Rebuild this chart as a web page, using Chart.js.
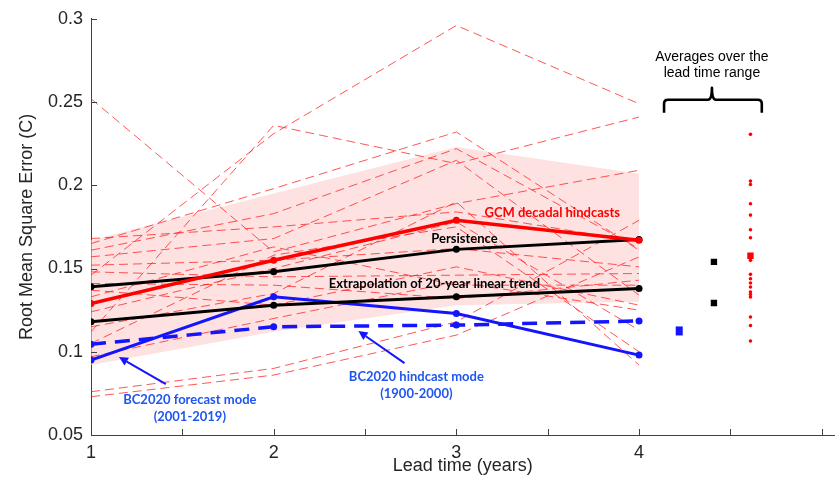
<!DOCTYPE html>
<html lang="en">
  <head>
    <meta charset="utf-8" />
    <title>RMSE vs lead time</title>
    <style>
      html, body { margin: 0; padding: 0; background: #fff; }
      #wrap { width: 839px; height: 491px; }
    </style>
  </head>
  <body>
    <div id="wrap"><canvas id="chart" width="839" height="491"></canvas></div>
    <script src="https://cdn.jsdelivr.net/npm/chart.js@4.4.1/dist/chart.umd.min.js"></script>
    <script>
      // lead times (years)
      const leadTimes = [1, 2, 3, 4];

      // main curves
      const gcmMean = [0.129, 0.155, 0.179, 0.167];
      const persistence = [0.139, 0.148, 0.1615, 0.1675];
      const extrapolation = [0.118, 0.128, 0.133, 0.138];
      const bcForecast = [0.095, 0.133, 0.123, 0.098];
      const bcHindcast = [0.1045, 0.115, 0.116, 0.1185];

      // shaded spread of the GCM hindcasts
      const bandUpper = [0.167, 0.195, 0.223, 0.207];
      const bandLower = [0.092, 0.112, 0.128, 0.130];

      // individual GCM hindcasts
      const gcmRuns = [
        [0.146, 0.231, 0.296, 0.249],
        [0.252, 0.160, 0.189, 0.209],
        [0.112, 0.236, 0.213, 0.241],
        [0.165, 0.198, 0.232, 0.161],
        [0.161, 0.183, 0.222, 0.162],
        [0.168, 0.175, 0.184, 0.166],
        [0.157, 0.168, 0.215, 0.134],
        [0.152, 0.155, 0.162, 0.151],
        [0.148, 0.145, 0.146, 0.147],
        [0.133, 0.163, 0.140, 0.140],
        [0.124, 0.150, 0.178, 0.113],
        [0.141, 0.140, 0.132, 0.143],
        [0.137, 0.128, 0.151, 0.128],
        [0.105, 0.158, 0.175, 0.100],
        [0.115, 0.135, 0.190, 0.092],
        [0.097, 0.120, 0.142, 0.125],
        [0.076, 0.090, 0.118, 0.179],
        [0.073, 0.086, 0.110, 0.157]
      ];

      // averages over the lead time range
      const gcmRunAverages = [0.2306, 0.2025, 0.2005, 0.1889, 0.1821, 0.1733, 0.1685, 0.1549, 0.1465,
        0.1439, 0.1413, 0.1389, 0.1359, 0.1344, 0.1329, 0.1209, 0.1158, 0.1065];
      const gcmMeanAverage = 0.1577;
      const blackAverages = [0.154, 0.1293];
      const bcForecastAverage = 0.1125;
      const averageColumns = { bc: 4.22, black: 4.41, gcm: 4.61 };

      const xTicks = [1, 1.5, 2, 2.5, 3, 3.5, 4, 4.5, 5];
      const yTicks = [0.05, 0.1, 0.15, 0.2, 0.25, 0.3];

      const FONT = "'Liberation Sans', Arial, Helvetica, sans-serif";
      const NOTE_FONT = "Lato, 'Open Sans', sans-serif";
      const RED = '#ff0000';
      const BLUE = '#1414ff';
      const NOTE_BLUE = '#1f55f0';

      const pts = arr => leadTimes.map((x, i) => ({ x: x, y: arr[i] }));

      const mainLine = {
        borderWidth: 3,
        pointRadius: 3.5,
        pointBorderWidth: 0,
        tension: 0,
        fill: false,
        order: 1
      };

      const datasets = [
        {
          label: 'band lower',
          data: pts(bandLower),
          borderWidth: 0,
          pointRadius: 0,
          fill: false,
          order: 20
        },
        {
          label: 'band upper',
          data: pts(bandUpper),
          borderWidth: 0,
          pointRadius: 0,
          backgroundColor: 'rgba(253, 205, 205, 0.6)',
          fill: '-1',
          order: 20
        }
      ];

      gcmRuns.forEach((run, k) => {
        datasets.push({
          label: 'GCM ' + (k + 1),
          data: pts(run),
          borderColor: 'rgba(255, 30, 30, 0.75)',
          borderWidth: 1,
          borderDash: [9, 5],
          pointRadius: 0,
          fill: false,
          order: 10
        });
      });

      datasets.push(
        { label: 'GCM decadal hindcasts', data: pts(gcmMean), borderColor: RED, backgroundColor: RED, ...mainLine, borderWidth: 3.5 },
        { label: 'Persistence', data: pts(persistence), borderColor: '#000', backgroundColor: '#000', ...mainLine },
        { label: 'Extrapolation', data: pts(extrapolation), borderColor: '#000', backgroundColor: '#000', ...mainLine },
        { label: 'BC2020 forecast', data: pts(bcForecast), borderColor: BLUE, backgroundColor: BLUE, ...mainLine },
        { label: 'BC2020 hindcast', data: pts(bcHindcast), borderColor: BLUE, backgroundColor: BLUE, ...mainLine, borderWidth: 3.5, borderDash: [15, 9] },
        {
          label: 'GCM averages',
          data: gcmRunAverages.map(v => ({ x: averageColumns.gcm, y: v })),
          showLine: false, pointRadius: 1.8, pointBorderWidth: 0, backgroundColor: RED, order: 2
        },
        {
          label: 'GCM mean average',
          data: [{ x: averageColumns.gcm, y: gcmMeanAverage }],
          showLine: false, pointStyle: 'rect', pointRadius: 4.5, pointBorderWidth: 0, backgroundColor: RED, order: 1
        },
        {
          label: 'black averages',
          data: blackAverages.map(v => ({ x: averageColumns.black, y: v })),
          showLine: false, pointStyle: 'rect', pointRadius: 4.5, pointBorderWidth: 0, backgroundColor: '#000', order: 1
        },
        {
          label: 'BC2020 forecast average',
          data: [{ x: averageColumns.bc, y: bcForecastAverage }],
          showLine: false, pointStyle: 'rectRot', pointRadius: 0, order: 1
        }
      );

      // the blue average is a slightly tall rectangle, drawn via a custom style below
      const notes = [
        { text: 'GCM decadal hindcasts', x: 3.525, y: 0.1837, color: RED },
        { text: 'Persistence', x: 3.044, y: 0.1681, color: '#000' },
        { text: 'Extrapolation of 20-year linear trend', x: 2.88, y: 0.1411, color: '#000' },
        { text: 'BC2020 forecast mode', x: 1.541, y: 0.071, color: NOTE_BLUE },
        { text: '(2001-2019)', x: 1.541, y: 0.0608, color: NOTE_BLUE },
        { text: 'BC2020 hindcast mode', x: 2.781, y: 0.0848, color: NOTE_BLUE },
        { text: '(1900-2000)', x: 2.781, y: 0.0746, color: NOTE_BLUE }
      ];
      const arrows = [
        { from: [1.41, 0.0806], to: [1.153, 0.0968] },
        { from: [2.716, 0.0932], to: [2.464, 0.1124] }
      ];
      const brace = { left: 4.137, right: 4.672, mid: 4.399, top: 0.2514, foot: 0.2436, tip: 0.2586 };
      const braceLabel = { lines: ['Averages over the', 'lead time range'], x: 4.399, y: [0.2772, 0.2676] };

      const extras = {
        id: 'extras',
        afterDatasetsDraw(chart) {
          const ctx = chart.ctx;
          const xs = chart.scales.x, ys = chart.scales.y;
          const px = v => xs.getPixelForValue(v);
          const py = v => ys.getPixelForValue(v);
          const area = chart.chartArea;

          ctx.save();
          // inward tick marks
          ctx.strokeStyle = '#404040';
          ctx.lineWidth = 1;
          ctx.beginPath();
          xTicks.forEach(t => {
            const x = Math.round(px(t)) + 0.5;
            ctx.moveTo(x, area.bottom);
            ctx.lineTo(x, area.bottom - 6);
          });
          yTicks.forEach(t => {
            const y = Math.round(py(t)) + 0.5;
            ctx.moveTo(area.left, y);
            ctx.lineTo(area.left + 6, y);
          });
          ctx.stroke();

          // blue average marker
          ctx.fillStyle = BLUE;
          ctx.fillRect(px(averageColumns.bc) - 3.5, py(bcForecastAverage) - 4.5, 7, 9);

          // arrows
          ctx.strokeStyle = BLUE;
          ctx.fillStyle = BLUE;
          ctx.lineWidth = 2;
          arrows.forEach(a => {
            const x0 = px(a.from[0]), y0 = py(a.from[1]);
            const x1 = px(a.to[0]), y1 = py(a.to[1]);
            const ang = Math.atan2(y1 - y0, x1 - x0);
            const hl = 9, hw = 4.5;
            const bx = x1 - hl * Math.cos(ang), by = y1 - hl * Math.sin(ang);
            ctx.beginPath();
            ctx.moveTo(x0, y0);
            ctx.lineTo(bx, by);
            ctx.stroke();
            ctx.beginPath();
            ctx.moveTo(x1, y1);
            ctx.lineTo(bx + hw * Math.sin(ang), by - hw * Math.cos(ang));
            ctx.lineTo(bx - hw * Math.sin(ang), by + hw * Math.cos(ang));
            ctx.closePath();
            ctx.fill();
          });

          // text notes
          ctx.textAlign = 'center';
          ctx.textBaseline = 'middle';
          ctx.font = 'bold 13px ' + NOTE_FONT;
          notes.forEach(n => {
            ctx.fillStyle = n.color;
            ctx.fillText(n.text, px(n.x), py(n.y));
          });

          // brace + its label
          const L = px(brace.left), R = px(brace.right), M = px(brace.mid);
          const T = py(brace.top), F = py(brace.foot), P = py(brace.tip);
          ctx.strokeStyle = '#000';
          ctx.lineWidth = 2.6;
          ctx.lineJoin = 'round';
          ctx.beginPath();
          ctx.moveTo(L, F);
          ctx.lineTo(L, T + 4);
          ctx.quadraticCurveTo(L, T, L + 4, T);
          ctx.lineTo(M - 4, T);
          ctx.quadraticCurveTo(M, T, M, P);
          ctx.quadraticCurveTo(M, T, M + 4, T);
          ctx.lineTo(R - 4, T);
          ctx.quadraticCurveTo(R, T, R, T + 4);
          ctx.lineTo(R, F);
          ctx.stroke();

          ctx.fillStyle = '#000';
          ctx.font = '14px ' + FONT;
          braceLabel.lines.forEach((t, i) => ctx.fillText(t, px(braceLabel.x), py(braceLabel.y[i])));
          ctx.restore();
        }
      };

      new Chart(document.getElementById('chart'), {
        type: 'line',
        data: { datasets: datasets },
        options: {
          responsive: false,
          animation: false,
          devicePixelRatio: 1,
          layout: { padding: { top: 18, right: 1, left: 0, bottom: 0 } },
          plugins: {
            legend: { display: false },
            tooltip: { enabled: false }
          },
          scales: {
            x: {
              type: 'linear',
              min: 1,
              max: 5.07,
              border: { display: true, color: '#404040', width: 1 },
              grid: { display: false, drawTicks: false },
              ticks: {
                stepSize: 0.5,
                includeBounds: false,
                autoSkip: false,
                maxRotation: 0,
                padding: 7,
                color: '#262626',
                font: { family: FONT, size: 18 },
                callback: v => (Number.isInteger(v) && v <= 4) ? String(v) : ''
              },
              title: {
                display: true,
                text: 'Lead time (years)',
                color: '#262626',
                font: { family: FONT, size: 18 },
                padding: { top: 0, bottom: 14 }
              },
              afterFit: s => { s.height = 56; }
            },
            y: {
              min: 0.05,
              max: 0.3,
              border: { display: true, color: '#404040', width: 1 },
              grid: { display: false, drawTicks: false },
              ticks: {
                stepSize: 0.05,
                padding: 8,
                color: '#262626',
                font: { family: FONT, size: 18 },
                callback: v => String(Number(v.toFixed(2)))
              },
              title: {
                display: true,
                text: 'Root Mean Square Error (C)',
                color: '#262626',
                font: { family: FONT, size: 18 },
                padding: { top: 16, bottom: 0 }
              },
              afterFit: s => { s.width = 91; }
            }
          }
        },
        plugins: [extras]
      });
    </script>
  </body>
</html>
